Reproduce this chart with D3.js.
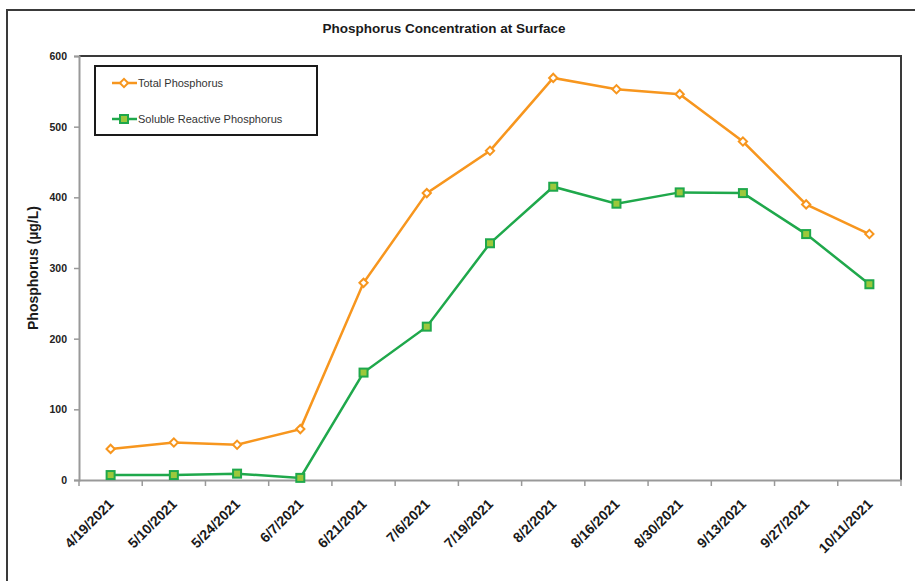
<!DOCTYPE html>
<html>
<head>
    <meta charset="utf-8">
    <style>
        body { margin: 0; background: #fff; }
        svg { display: block; }
    </style>
</head>
<body>
    <svg width="915" height="581"></svg>
    <script src="https://d3js.org/d3.v7.min.js"></script>
    <script>
        // sampling dates (category labels)
        var dates = ["4/19/2021", "5/10/2021", "5/24/2021", "6/7/2021", "6/21/2021", "7/6/2021", "7/19/2021",
            "8/2/2021", "8/16/2021", "8/30/2021", "9/13/2021", "9/27/2021", "10/11/2021"];
        // values in ug/L
        var totalP = [44, 53, 50, 72, 279, 406, 466, 569, 553, 546, 479, 390, 348];
        var solubleP = [7, 7, 9, 3, 152, 217, 335, 415, 391, 407, 406, 348, 277];
        var yTicks = [0, 100, 200, 300, 400, 500, 600];
        var seriesNames = ["Total Phosphorus", "Soluble Reactive Phosphorus"];

        var svg = d3.select("svg");
        var pLeft = 79, pRight = 901, pTop = 56, pBottom = 480;

        var x = d3.scaleBand().domain(dates).range([pLeft, pRight]).padding(0);
        var y = d3.scaleLinear().domain([0, 600]).range([pBottom, pTop]);

        var orange = "#f7961e", green = "#1fa84b";
        var font = "'Liberation Sans', Arial, sans-serif";

        // outer frame (runs off the right and bottom edges)
        svg.append("rect")
            .attr("x", 7).attr("y", 10)
            .attr("width", 1000).attr("height", 1000)
            .attr("fill", "none")
            .attr("stroke", "#3a3a3a")
            .attr("stroke-width", 2);

        // title
        svg.append("text")
            .attr("x", 444).attr("y", 33)
            .attr("text-anchor", "middle")
            .style("font-family", font)
            .style("font-weight", "bold")
            .style("font-size", "13.5px")
            .attr("fill", "#1a1a1a")
            .text("Phosphorus Concentration at Surface");

        // plot area: top and right edges dark
        svg.append("path")
            .attr("d", "M" + pLeft + "," + pTop + "H" + pRight + "V" + pBottom)
            .attr("fill", "none")
            .attr("stroke", "#3a3a3a")
            .attr("stroke-width", 2);

        // y axis
        var yAxis = svg.append("g")
            .attr("transform", "translate(" + pLeft + ",0)")
            .call(d3.axisLeft(y).tickValues(yTicks).tickSize(5).tickPadding(7));
        yAxis.select(".domain").attr("stroke", "#999").attr("stroke-width", 2);
        yAxis.selectAll(".tick line").attr("stroke", "#999").attr("stroke-width", 1.5);
        yAxis.selectAll(".tick text")
            .style("font-family", font)
            .style("font-weight", "bold")
            .style("font-size", "10.5px")
            .attr("fill", "#222");

        // x axis: labels at band centres, ticks at band boundaries
        var xAxis = svg.append("g")
            .attr("transform", "translate(0," + pBottom + ")")
            .call(d3.axisBottom(x).tickSize(0).tickFormat(""));
        xAxis.select(".domain").attr("stroke", "#999").attr("stroke-width", 2);

        svg.append("g").selectAll("line")
            .data(d3.range(dates.length + 1))
            .enter().append("line")
            .attr("x1", function (i) { return pLeft + i * x.step(); })
            .attr("x2", function (i) { return pLeft + i * x.step(); })
            .attr("y1", pBottom)
            .attr("y2", pBottom + 6)
            .attr("stroke", "#999")
            .attr("stroke-width", 1.5);

        svg.append("g").selectAll("text")
            .data(dates)
            .enter().append("text")
            .attr("transform", function (d) {
                return "translate(" + (x(d) + x.bandwidth() / 2 + 4) + "," + (pBottom + 25) + ")rotate(-45)";
            })
            .attr("text-anchor", "end")
            .style("font-family", font)
            .style("font-weight", "bold")
            .style("font-size", "14px")
            .attr("fill", "#1a1a1a")
            .text(function (d) { return d; });

        // y label
        svg.append("text")
            .attr("transform", "translate(38," + ((pTop + pBottom) / 2) + ")rotate(-90)")
            .attr("text-anchor", "middle")
            .style("font-family", font)
            .style("font-weight", "bold")
            .style("font-size", "14px")
            .attr("fill", "#1a1a1a")
            .text("Phosphorus (\u00b5g/L)");

        // lines
        var cx = function (d, i) { return x(dates[i]) + x.bandwidth() / 2; };
        var line = d3.line()
            .x(cx)
            .y(function (d) { return y(d); });

        svg.append("path")
            .datum(totalP)
            .attr("d", line)
            .attr("fill", "none")
            .attr("stroke", orange)
            .attr("stroke-width", 2.5);

        svg.append("path")
            .datum(solubleP)
            .attr("d", line)
            .attr("fill", "none")
            .attr("stroke", green)
            .attr("stroke-width", 2.5);

        // markers: diamond = square turned 45 degrees
        var diamond = d3.symbol().type(d3.symbolSquare).size(34);
        svg.append("g").selectAll("path")
            .data(totalP)
            .enter().append("path")
            .attr("d", diamond)
            .attr("transform", function (d, i) { return "translate(" + cx(d, i) + "," + y(d) + ")rotate(45)"; })
            .attr("fill", "#fff")
            .attr("stroke", orange)
            .attr("stroke-width", 2);

        svg.append("g").selectAll("rect")
            .data(solubleP)
            .enter().append("rect")
            .attr("x", function (d, i) { return cx(d, i) - 4; })
            .attr("y", function (d) { return y(d) - 4; })
            .attr("width", 8).attr("height", 8)
            .attr("fill", "#9cc83c")
            .attr("stroke", green)
            .attr("stroke-width", 2);

        // legend
        var legend = svg.append("g");
        legend.append("rect")
            .attr("x", 95).attr("y", 66)
            .attr("width", 222).attr("height", 69)
            .attr("fill", "#fff")
            .attr("stroke", "#1a1a1a")
            .attr("stroke-width", 2);

        var legY = [83, 119];
        var legColors = [orange, green];
        seriesNames.forEach(function (name, i) {
            legend.append("line")
                .attr("x1", 112).attr("x2", 137)
                .attr("y1", legY[i]).attr("y2", legY[i])
                .attr("stroke", legColors[i])
                .attr("stroke-width", 2.5);
            if (i === 0) {
                legend.append("path")
                    .attr("d", diamond)
                    .attr("transform", "translate(124," + legY[i] + ")rotate(45)")
                    .attr("fill", "#fff")
                    .attr("stroke", orange)
                    .attr("stroke-width", 2);
            } else {
                legend.append("rect")
                    .attr("x", 120).attr("y", legY[i] - 4)
                    .attr("width", 8).attr("height", 8)
                    .attr("fill", "#9cc83c")
                    .attr("stroke", green)
                    .attr("stroke-width", 2);
            }
            legend.append("text")
                .attr("x", 138).attr("y", legY[i])
                .attr("dy", "0.35em")
                .style("font-family", font)
                .style("font-size", "11px")
                .attr("fill", "#333")
                .text(name);
        });
    </script>
</body>
</html>
